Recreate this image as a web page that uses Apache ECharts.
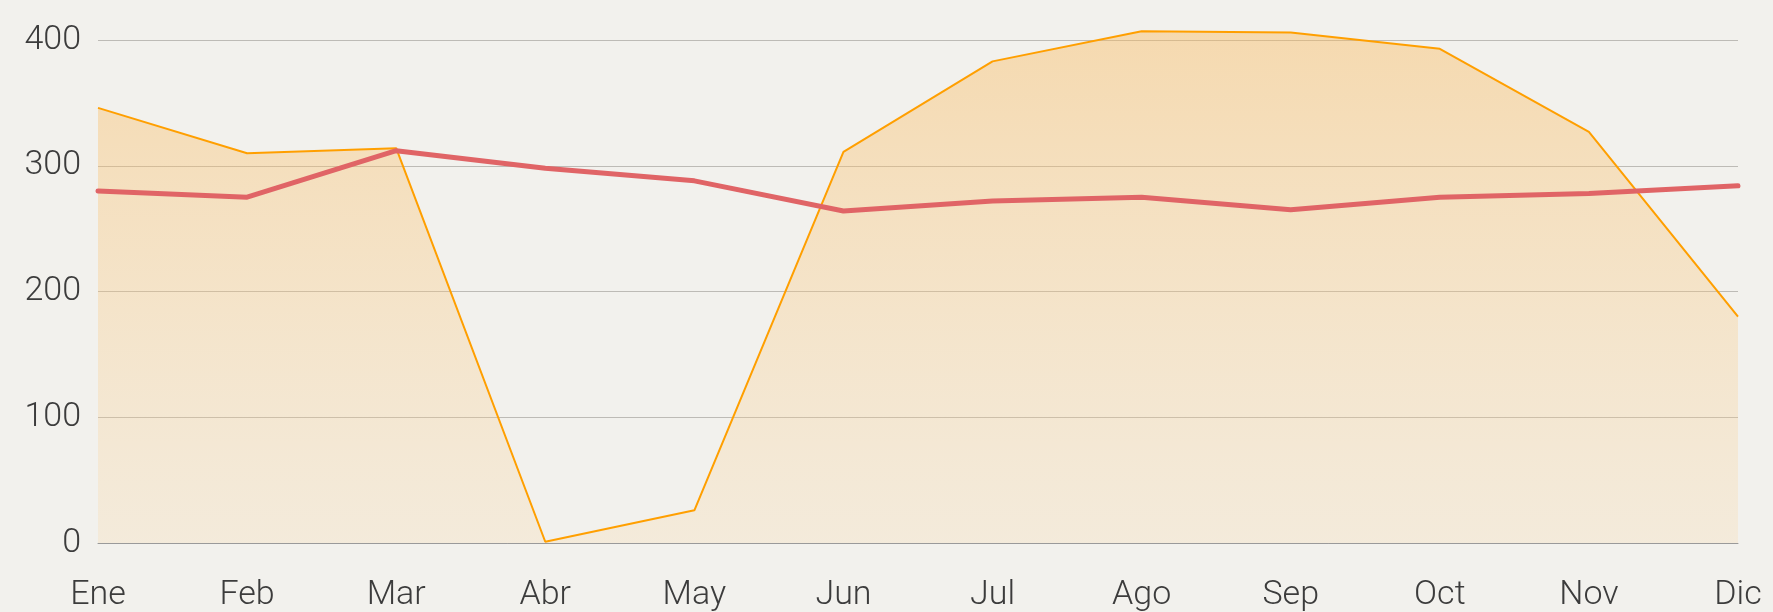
<!DOCTYPE html>
<html>
<head>
<meta charset="utf-8">
<script src="https://cdn.jsdelivr.net/npm/echarts@6/dist/echarts.min.js"></script>
<style>
html,body{margin:0;padding:0;background:#f2f1ed;}
#c{width:1773px;height:612px;}
</style>
</head>
<body>
<div id="c"></div>
<script>
const categories = ['Ene','Feb','Mar','Abr','May','Jun','Jul','Ago','Sep','Oct','Nov','Dic'];
const areaValues = [346, 310, 314, 1, 26, 311, 383, 407, 406, 393, 327, 180];
const lineValues = [280, 275, 312, 298, 288, 264, 272, 275, 265, 275, 278, 284];
const yTicks = [0, 100, 200, 300, 400];

const chart = echarts.init(document.getElementById('c'));
chart.setOption({
  backgroundColor: '#f2f1ed',
  animation: false,
  grid: { left: 98, right: 35, top: 40, bottom: 69 },
  xAxis: {
    type: 'category',
    data: categories,
    boundaryGap: false,
    axisLine: { show: true, lineStyle: { color: '#9a9a9a', width: 1 } },
    axisTick: { show: false },
    splitLine: { show: false },
    axisLabel: { color: '#3c3c3c', fontFamily: 'Roboto', fontWeight: 300, fontSize: 34, margin: 35 }
  },
  yAxis: {
    type: 'value',
    min: yTicks[0],
    max: yTicks[yTicks.length - 1],
    interval: 100,
    axisLine: { show: false },
    axisTick: { show: false },
    splitLine: { lineStyle: { color: '#bdbbb6', width: 1 } },
    axisLabel: { color: '#3c3c3c', fontFamily: 'Roboto', fontWeight: 300, fontSize: 34, margin: 17 }
  },
  series: [
    {
      type: 'line',
      data: areaValues,
      clip: false,
      showSymbol: false,
      symbol: 'none',
      lineStyle: { color: '#ff9f00', width: 2 },
      areaStyle: {
        color: new echarts.graphic.LinearGradient(0, 0, 0, 1, [
          { offset: 0, color: 'rgba(250,185,90,0.6)' },
          { offset: 1, color: 'rgba(250,210,150,0.3)' }
        ])
      },
      z: 2
    },
    {
      type: 'line',
      data: lineValues,
      clip: false,
      showSymbol: false,
      symbol: 'none',
      lineStyle: { color: '#e06466', width: 5, cap: 'round', join: 'round' },
      z: 3
    }
  ]
});
</script>
</body>
</html>
